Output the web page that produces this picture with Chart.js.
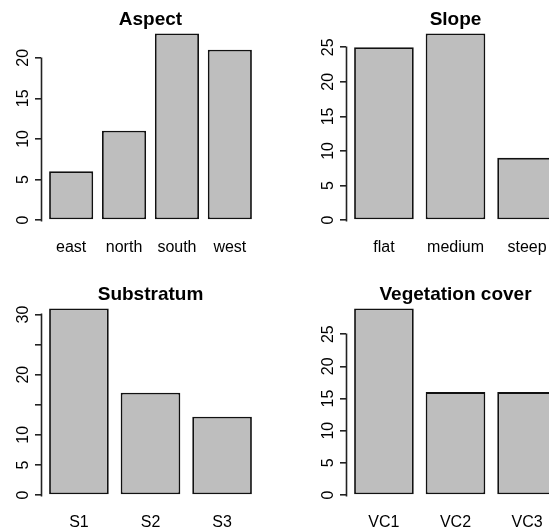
<!DOCTYPE html>
<html>
<head>
<meta charset="utf-8">
<script src="https://cdn.jsdelivr.net/npm/chart.js@4"></script>
<style>
  html, body { margin: 0; padding: 0; background: #fff; overflow: hidden; }
  body { width: 549px; height: 529px; position: relative; }
  canvas { position: absolute; }
</style>
</head>
<body>
<canvas id="aspect" width="305" height="275" style="left:0;top:0"></canvas>
<canvas id="slope" width="305" height="275" style="left:305px;top:0"></canvas>
<canvas id="substratum" width="305" height="275" style="left:0;top:275px"></canvas>
<canvas id="vegetation" width="305" height="275" style="left:305px;top:275px"></canvas>
<script>
// counts
const aspectLabels = ["east", "north", "south", "west"];
const aspectCounts = [6, 11, 23, 21];
const aspectTicks = [0, 5, 10, 15, 20];
const aspectTickLabels = ["0", "5", "10", "15", "20"];

const slopeLabels = ["flat", "medium", "steep"];
const slopeCounts = [25, 27, 9];
const slopeTicks = [0, 5, 10, 15, 20, 25];
const slopeTickLabels = ["0", "5", "10", "15", "20", "25"];

const substratumLabels = ["S1", "S2", "S3"];
const substratumCounts = [31, 17, 13];
const substratumTicks = [0, 5, 10, 15, 20, 25, 30];
const substratumTickLabels = ["0", "5", "10", "", "20", "", "30"]; // R drops the crowded ones

const vegLabels = ["VC1", "VC2", "VC3"];
const vegCounts = [29, 16, 16];
const vegTicks = [0, 5, 10, 15, 20, 25];
const vegTickLabels = ["0", "5", "10", "15", "20", "25"];

Chart.defaults.color = "#000";
Chart.defaults.font.family = "'Liberation Sans', Arial, sans-serif";

// R only draws the axis line between the first and the last tick
const axisLinePlugin = {
  id: "axisLine",
  afterDraw(chart) {
    const scale = chart.scales.y;
    const ctx = chart.ctx;
    const x = Math.round(scale.right) + 0.5;
    const y1 = Math.round(scale.getPixelForValue(scale.ticks[scale.ticks.length - 1].value)) - 0.5;
    const y2 = Math.round(scale.getPixelForValue(scale.ticks[0].value)) + 1.5;
    ctx.save();
    ctx.strokeStyle = "#222";
    ctx.lineWidth = 1.6;
    ctx.beginPath();
    ctx.moveTo(x, y1);
    ctx.lineTo(x, y2);
    ctx.stroke();
    ctx.restore();
  }
};

function makeChart(id, title, labels, counts, yTicks, yTickLabels) {
  const n = labels.length;
  // barplot layout: width 1, space 0.2, range padded 4% each side
  const span = 1.2 * n - 0.2;
  const centers = labels.map((l, i) => 0.7 + 1.2 * i);
  const top = Math.max(...counts);

  new Chart(document.getElementById(id), {
    type: "bar",
    data: {
      datasets: [{
        data: counts.map((c, i) => ({ x: centers[i], y: c })),
        backgroundColor: "#bebebe",
        borderColor: "#111",
        borderWidth: 1.8,
        borderSkipped: false,
        categoryPercentage: 1,
        barPercentage: 1 / 1.2
      }]
    },
    options: {
      responsive: false,
      animation: false,
      layout: { padding: { left: 0, right: 45, top: 0, bottom: 0 } },
      plugins: {
        legend: { display: false },
        tooltip: { enabled: false },
        title: {
          display: true,
          text: title,
          fullSize: false,
          color: "#000",
          font: { size: 19, weight: "bold", lineHeight: 13.4 / 19 },
          padding: { top: 12.6, bottom: 0 }
        }
      },
      scales: {
        x: {
          type: "linear",
          offset: false,
          bounds: "data",
          min: 0.2 - 0.04 * span,
          max: 1.2 * n + 0.04 * span,
          grid: { display: false, drawTicks: false },
          border: { display: false },
          ticks: {
            font: { size: 16 },
            padding: 10.4,
            maxRotation: 0,
            autoSkip: false,
            callback: (v, i) => labels[i]
          },
          afterBuildTicks: s => { s.ticks = centers.map(v => ({ value: v })); },
          afterFit: s => { s.height = 47.5; }
        },
        y: {
          min: -0.04 * top,
          max: 1.04 * top,
          bounds: "data",
          grid: { drawOnChartArea: false, tickLength: 6, color: "#222", lineWidth: 1.6 },
          border: { display: false },
          ticks: {
            font: { size: 16 },
            padding: 2.8,
            minRotation: 90,
            maxRotation: 90,
            crossAlign: "center",
            autoSkip: false,
            callback: (v, i) => yTickLabels[i]
          },
          afterBuildTicks: s => { s.ticks = yTicks.map(v => ({ value: v })); },
          afterFit: s => { s.width = 41; }
        }
      }
    },
    plugins: [axisLinePlugin]
  });
}

makeChart("aspect", "Aspect", aspectLabels, aspectCounts, aspectTicks, aspectTickLabels);
makeChart("slope", "Slope", slopeLabels, slopeCounts, slopeTicks, slopeTickLabels);
makeChart("substratum", "Substratum", substratumLabels, substratumCounts, substratumTicks, substratumTickLabels);
makeChart("vegetation", "Vegetation cover", vegLabels, vegCounts, vegTicks, vegTickLabels);
</script>
</body>
</html>
